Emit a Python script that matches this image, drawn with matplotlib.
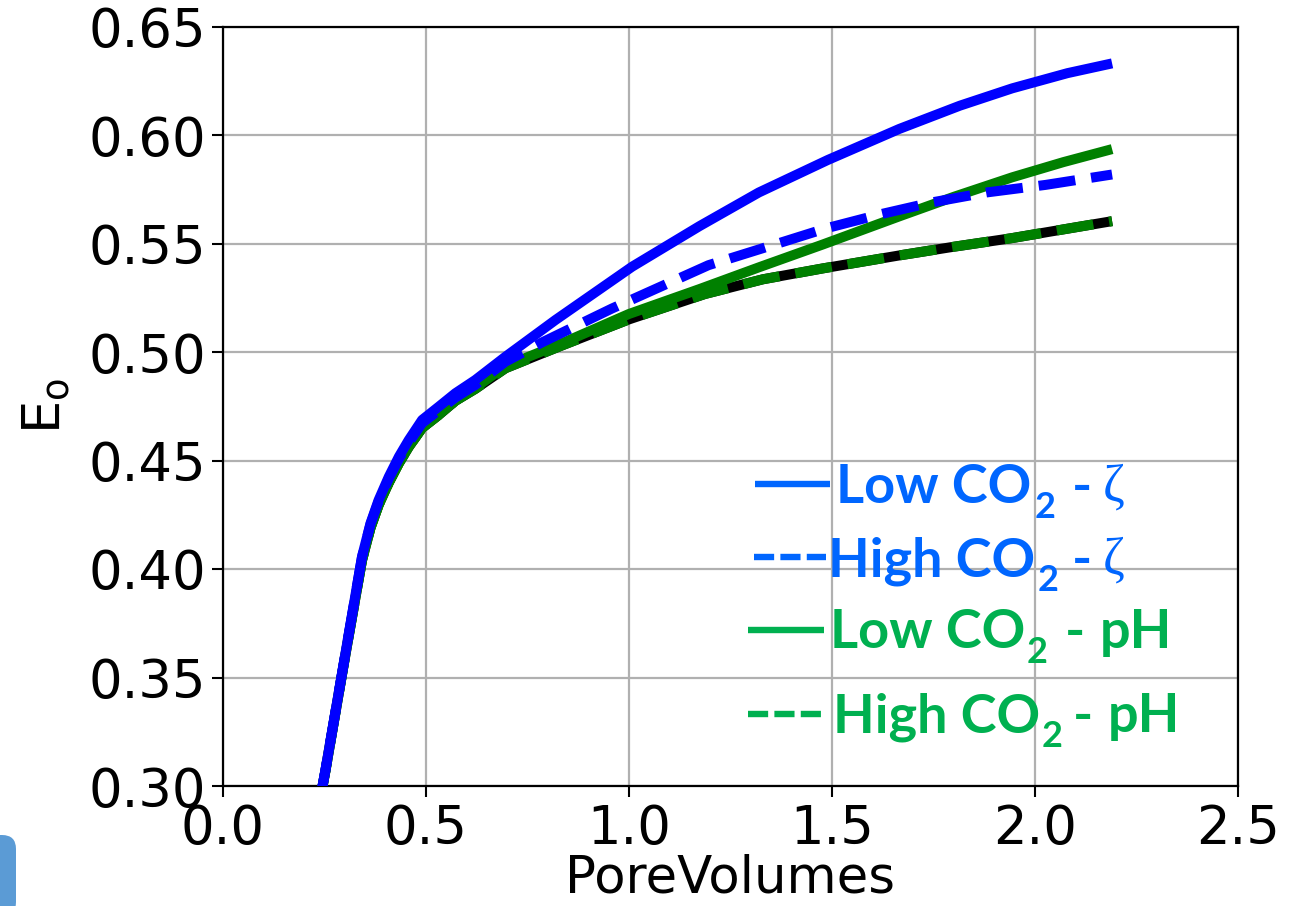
import matplotlib
matplotlib.use("Agg")
import matplotlib.pyplot as plt
from matplotlib.lines import Line2D
from matplotlib.patches import FancyBboxPatch
from matplotlib.transforms import IdentityTransform

# ---------------- data ----------------
x_low_zeta = [0.241, 0.253, 0.298, 0.343, 0.364, 0.384, 0.409, 0.434, 0.458, 0.491, 0.532, 0.573, 0.622,
              0.696, 0.819, 1.008, 1.174, 1.32, 1.49, 1.666, 1.815, 1.944, 2.08, 2.19]
y_low_zeta = [0.295, 0.3074, 0.3565, 0.4057, 0.4211, 0.4318, 0.4425, 0.4518, 0.4594, 0.4687, 0.4748, 0.481,
              0.4871, 0.4978, 0.5147, 0.5393, 0.558, 0.5735, 0.5885, 0.6028, 0.6135, 0.6215, 0.6285, 0.633]

x_high_zeta = [0.241, 0.253, 0.298, 0.343, 0.364, 0.384, 0.409, 0.434, 0.458, 0.491, 0.532, 0.573, 0.622,
               0.696, 0.786, 0.958, 1.196, 1.35, 1.486, 1.62, 1.748, 1.88, 2.026, 2.19]
y_high_zeta = [0.295, 0.3074, 0.3565, 0.4055, 0.4207, 0.4312, 0.4417, 0.4508, 0.4582, 0.4672, 0.4732, 0.479,
               0.4848, 0.4955, 0.5044, 0.520, 0.540, 0.549, 0.557, 0.5635, 0.569, 0.5735, 0.577, 0.5818]

x_low_ph = [0.241, 0.253, 0.298, 0.343, 0.364, 0.384, 0.409, 0.434, 0.458, 0.491, 0.532, 0.573, 0.622,
            0.696, 0.835, 1.000, 1.174, 1.32, 1.477, 1.666, 1.80, 1.944, 2.07, 2.19]
y_low_ph = [0.295, 0.307, 0.356, 0.404, 0.419, 0.4295, 0.4398, 0.4488, 0.4562, 0.465, 0.471, 0.4775, 0.4835,
            0.4935, 0.504, 0.5175, 0.529, 0.539, 0.5495, 0.5625, 0.5715, 0.5805, 0.5875, 0.5935]

x_high_ph = [0.241, 0.253, 0.298, 0.343, 0.364, 0.384, 0.409, 0.434, 0.458, 0.491, 0.532, 0.573, 0.622,
             0.696, 0.835, 1.000, 1.187, 1.33, 1.477, 1.666, 1.80, 1.944, 2.07, 2.19]
y_high_ph = [0.295, 0.307, 0.356, 0.404, 0.419, 0.4295, 0.4398, 0.4488, 0.4562, 0.465, 0.471, 0.4775, 0.4830,
             0.4925, 0.503, 0.5150, 0.5267, 0.5335, 0.5385, 0.5445, 0.5485, 0.5525, 0.5565, 0.5603]

xticks = [0.0, 0.5, 1.0, 1.5, 2.0, 2.5]
yticks = [0.30, 0.35, 0.40, 0.45, 0.50, 0.55, 0.60, 0.65]
x_label = "PoreVolumes"
y_label = r"E$_\mathregular{o}$"

legend_rows = [
    ("Low CO", "2", "\u03b6", "solid"),
    ("High CO", "2", "\u03b6", "dashed"),
    ("Low CO", "2", "pH", "solid"),
    ("High CO", "2", "pH", "dashed"),
]

# ---------------- figure ----------------
W, H = 1299, 906
fig = plt.figure(figsize=(W / 100, H / 100), dpi=100)
fig.patch.set_facecolor("white")
ax = fig.add_axes([222.7 / W, 1 - 786 / H, (1238 - 222.7) / W, (786 - 26.5) / H])

LW = 7.2
ax.plot(x_high_ph, y_high_ph, color="black", lw=LW, solid_capstyle="butt", solid_joinstyle="round", zorder=3)
ax.plot(x_high_ph, y_high_ph, color="green", lw=LW, ls="--", dash_capstyle="butt", zorder=4)
ax.plot(x_low_ph, y_low_ph, color="green", lw=LW, solid_capstyle="butt", solid_joinstyle="round", zorder=5)
ax.plot(x_high_zeta, y_high_zeta, color="blue", lw=LW, ls="--", dash_capstyle="butt", zorder=6)
ax.plot(x_low_zeta, y_low_zeta, color="blue", lw=LW, solid_capstyle="butt", solid_joinstyle="round", zorder=7)

ax.set_xlim(0, 2.5)
ax.set_ylim(0.30, 0.65)
ax.set_xticks(xticks)
ax.set_yticks(yticks)
ax.set_xticklabels([f"{v:.1f}" for v in xticks])
ax.set_yticklabels([f"{v:.2f}" for v in yticks])
ax.grid(True, color="#b0b0b0", lw=1.6)
ax.set_axisbelow(True)
for s in ax.spines.values():
    s.set_linewidth(1.6)
ax.tick_params(axis="both", labelsize=38, length=8, width=1.5, direction="out", pad=4)
ax.tick_params(axis="x", pad=4)
ax.set_xlabel(x_label, fontsize=37, labelpad=-1)
ax.set_ylabel(y_label, fontsize=38, labelpad=12)

# ---------------- overlaid legend (text boxes) ----------------
idt = IdentityTransform()
BLUE = "#0066FF"
GREEN = "#00B050"
row_specs = [
    # line x0, x1, line y, text x, baseline, sub x, dash x, last x, color
    (755, 830, 484, 836, 503, 1035, 1072, 1103, BLUE),
    (754, 826, 557, 828, 576, 1038, 1072, 1103, BLUE),
    (748, 824, 630, 830, 648, 1027, 1065, 1100, GREEN),
    (748, 823, 714, 833, 732, 1042, 1073, 1108, GREEN),
]
for (main, sub, last, style), (lx0, lx1, ly, tx, tb, sx, dx, lastx, col) in zip(legend_rows, row_specs):
    lw_pt = 4.6
    if style == "solid":
        ln = Line2D([lx0, lx1], [H - ly, H - ly], transform=idt, color=col, lw=lw_pt,
                    solid_capstyle="butt")
    else:
        ln = Line2D([lx0, lx1], [H - ly, H - ly], transform=idt, color=col, lw=lw_pt,
                    ls=(0, (14.5 / lw_pt, 4.5 / lw_pt)), dash_capstyle="butt")
    fig.lines.append(ln)
    fig.text(tx, H - tb, main, transform=idt, fontsize=39, fontweight="bold", family="Lato",
             color=col, ha="left", va="baseline")
    fig.text(sx, H - tb - 15, sub, transform=idt, fontsize=26, fontweight="bold", family="Lato",
             color=col, ha="left", va="baseline")
    fig.text(dx, H - tb, "-", transform=idt, fontsize=39, fontweight="bold", family="Lato",
             color=col, ha="left", va="baseline")
    if last == "pH":
        fig.text(lastx, H - tb, last, transform=idt, fontsize=39, fontweight="bold", family="Lato",
                 color=col, ha="left", va="baseline")
    else:
        fig.text(lastx, H - tb + 2, last, transform=idt, fontsize=38, family="Liberation Serif",
                 color=col, ha="left", va="baseline")

# bottom-left slide decoration
fig.patches.append(FancyBboxPatch((-30, -10), 46, 81, boxstyle="round,pad=0,rounding_size=14",
                                  transform=idt, facecolor="#5B9BD5", edgecolor="none"))

fig.savefig("out.png", dpi=100, facecolor="white")
